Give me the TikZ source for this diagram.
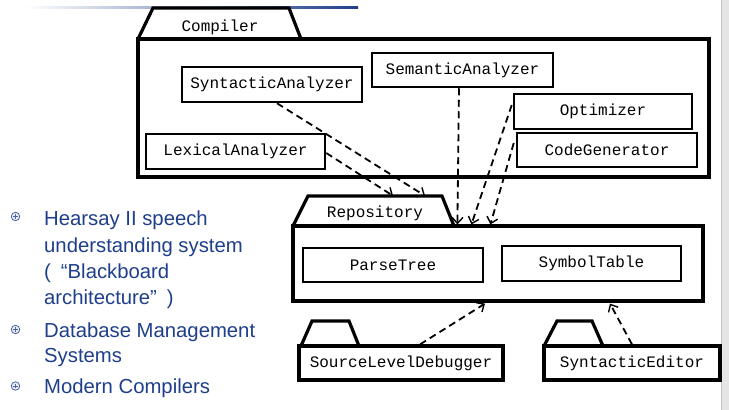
\documentclass[tikz,border=0pt]{standalone}
\usepackage{fontspec}
\setmainfont{Liberation Sans}
\newfontfamily\monofont{Liberation Mono}
\usetikzlibrary{arrows.meta,calc}
\definecolor{ttblue}{RGB}{31,63,140}
\begin{document}
\begin{tikzpicture}[x=1pt,y=-1pt,
  comp/.style={draw, line width=2.5pt, inner sep=0pt, fill=white,
    font=\monofont\fontsize{16}{18}\selectfont},
  bigbox/.style={draw, line width=3.2pt, inner sep=0pt, fill=white},
  tabshape/.style={draw, line width=3.2pt, fill=white, line join=miter},
  tablabel/.style={inner sep=0pt, font=\monofont\fontsize{16}{18}\selectfont},
  dep/.style={line width=1.8pt, dash pattern=on 7pt off 4.5pt, -{Straight Barb[length=6pt,width=11pt,line width=1.4pt]}},
  btext/.style={anchor=base west, inner sep=0pt, text=ttblue, font=\fontsize{20.3}{24}\selectfont},
  bullet/.style={circle, draw=ttblue!80, line width=0.8pt, fill=ttblue!10, minimum size=8.5pt, inner sep=0pt}
]
\useasboundingbox (0,0) rectangle (729,410);
\fill[white] (0,0) rectangle (729,410);
% right gray strip
\fill[black!10] (721,0) rectangle (729,410);
\draw[black!25, line width=1pt] (721.5,0) -- (721.5,410);
% top gradient line
\shade[left color=white, right color=ttblue] (25,6) rectangle (358,8.5);

% Compiler package
\draw[tabshape] (138,39) -- (153,8) -- (289,8) -- (301,39);
\node[tablabel] (comptab) at (220,27.5) {Compiler};
\node[bigbox, minimum width=571pt, minimum height=138pt] (compiler) at (423.5,108) {};
\node[comp, minimum width=180pt, minimum height=35pt] (syn) at (272,84.5) {SyntacticAnalyzer};
\node[comp, minimum width=179pt, minimum height=35pt] (lex) at (235.5,151.5) {LexicalAnalyzer};
\node[comp, minimum width=181pt, minimum height=34pt] (sem) at (462.5,70) {SemanticAnalyzer};
\node[comp, minimum width=178pt, minimum height=35pt] (opt) at (603,111.5) {Optimizer};
\node[comp, minimum width=180pt, minimum height=34pt] (cg) at (607,150) {CodeGenerator};

% Repository package
\draw[tabshape] (293,226) -- (308,196) -- (442,196) -- (454,226);
\node[tablabel, minimum width=134pt, minimum height=30pt] (repotab) at (375,211) {};
\node[tablabel] (repolabel) at (375,213.5) {Repository};
\node[bigbox, minimum width=410pt, minimum height=75pt] (repo) at (498,263.5) {};
\node[comp, minimum width=180pt, minimum height=34pt] (pt) at (393,265) {ParseTree};
\node[comp, minimum width=179pt, minimum height=35pt] (st) at (591.5,263.5) {SymbolTable};

% SourceLevelDebugger package
\draw[tabshape] (301,346) -- (312,321) -- (349,321) -- (359,346);
\node[bigbox, minimum width=204pt, minimum height=34pt, font=\monofont\fontsize{16}{18}\selectfont] (sld) at (401,363) {SourceLevelDebugger};
% SyntacticEditor package
\draw[tabshape] (544,346) -- (557,321) -- (592,321) -- (603,346);
\node[bigbox, minimum width=176pt, minimum height=34pt, font=\monofont\fontsize{16}{18}\selectfont] (se) at (632,363) {SyntacticEditor};

% dependencies
\draw[dep] ([xshift=5pt]syn.south) -- ([xshift=50pt]repotab.north);
\draw[dep] ([yshift=-1.5pt]lex.east) -- ([xshift=18pt]repotab.north);
\draw[dep] ([xshift=-3.5pt]sem.south) -- ([xshift=166pt]repo.north west);
\draw[dep] ([yshift=6.5pt,xshift=-1pt]opt.west) -- ([xshift=180pt]repo.north west);
\draw[dep] ([yshift=7pt,xshift=-2pt]cg.west) -- ([xshift=199pt]repo.north west);
\draw[dep] ([xshift=19pt]sld.north) -- ([xshift=-13pt,yshift=-1pt]repo.south);
\draw[dep] (se.north) -- ([xshift=112pt,yshift=-1pt]repo.south);

% bullet list
\node[bullet] (b1) at (15.5,216.5) {};
\node[bullet] (b2) at (15.5,329.5) {};
\node[bullet] (b3) at (15.5,386) {};
\foreach \b in {b1,b2,b3}{
  \draw[ttblue!80, line width=0.6pt] ([xshift=-2.2pt]\b.center) -- ([xshift=2.2pt]\b.center);
  \draw[ttblue!80, line width=0.6pt] ([yshift=-2.2pt]\b.center) -- ([yshift=2.2pt]\b.center);
}
\node[btext] (t1) at (44,225) {Hearsay II speech};
\node[btext] (t2) at (44,252) {understanding system};
\node[btext] (t3) at (44,278) {(\hspace{10pt}“Blackboard};
\node[btext] (t4) at (44,304) {architecture”\hspace{10pt})};
\node[btext] (t5) at (44,337) {Database Management};
\node[btext] (t6) at (44,362) {Systems};
\node[btext] (t7) at (44,393) {Modern Compilers};
\end{tikzpicture}
\end{document}
